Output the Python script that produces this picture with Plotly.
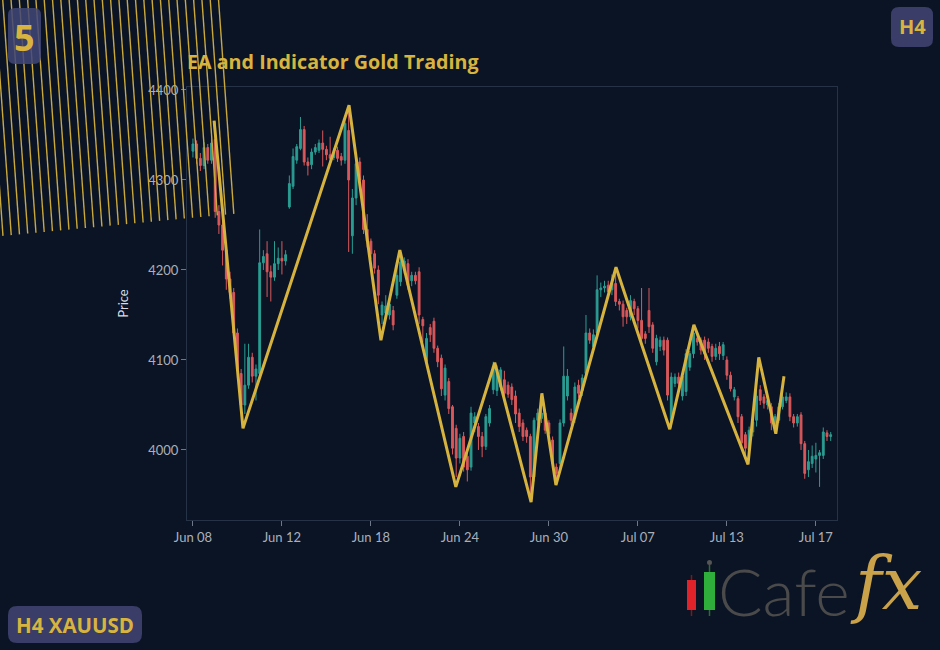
import plotly.graph_objects as go

# ---------------- data ----------------
opens = [4332, 4340, 4324, 4316, 4336, 4322, 4345, 4265, 4250, 4222,
         4190, 4175, 4130, 4085, 4050, 4072, 4103, 4082, 4085, 4208,
         4218, 4198, 4192, 4207, 4213, 4210, 4270, 4293, 4322, 4335,
         4356, 4320, 4317, 4331, 4333, 4341, 4334, 4328, 4325, 4333,
         4326, 4322, 4355, 4238, 4280, 4320, 4300, 4245, 4232, 4218,
         4200, 4150, 4152, 4150, 4155, 4172, 4187, 4200, 4207, 4188,
         4194, 4198, 4145, 4098, 4136, 4143, 4113, 4102, 4061, 4076,
         4048, 4024, 3991, 4015, 3993, 3981, 4030, 4026, 4015, 4004,
         4030, 4067, 4066, 4070, 4078, 4072, 4070, 4060, 4041, 4030,
         4022, 4015, 3970, 4033, 4035, 4041, 4030, 4011, 3981, 3985,
         4030, 4060, 4041, 4035, 4072, 4066, 4085, 4130, 4115, 4130,
         4178, 4180, 4183, 4178, 4185, 4165, 4162, 4155, 4148, 4165,
         4157, 4144, 4129, 4155, 4139, 4098, 4115, 4122, 4122, 4033,
         4074, 4081, 4060, 4065, 4092, 4107, 4124, 4122, 4122, 4120,
         4115, 4104, 4115, 4105, 4100, 4083, 4059, 4057, 4037, 4017,
         4000, 4020, 4033, 4067, 4059, 4050, 4048, 4026, 4033, 4048,
         4055, 4059, 4037, 4030, 4039, 4007, 3978, 3985, 3990, 3994,
         3994, 4019, 4015]
highs = [4346, 4344, 4330, 4342, 4340, 4345, 4365, 4272, 4256, 4228,
         4198, 4180, 4135, 4090, 4118, 4118, 4108, 4095, 4245, 4222,
         4232, 4205, 4232, 4225, 4232, 4222, 4305, 4335, 4340, 4370,
         4360, 4325, 4335, 4340, 4345, 4355, 4338, 4348, 4335, 4337,
         4330, 4372, 4380, 4290, 4322, 4325, 4305, 4262, 4235, 4222,
         4205, 4165, 4172, 4168, 4160, 4210, 4218, 4214, 4212, 4198,
         4198, 4203, 4148, 4130, 4140, 4147, 4116, 4106, 4095, 4080,
         4050, 4028, 4018, 4020, 3998, 4048, 4042, 4030, 4020, 4040,
         4050, 4098, 4094, 4092, 4088, 4076, 4074, 4066, 4046, 4034,
         4025, 4018, 4036, 4046, 4060, 4045, 4033, 4015, 3985, 4034,
         4115, 4090, 4046, 4075, 4078, 4084, 4150, 4135, 4134, 4194,
         4186, 4188, 4188, 4195, 4200, 4168, 4166, 4158, 4172, 4168,
         4160, 4180, 4132, 4180, 4142, 4128, 4126, 4126, 4125, 4086,
         4085, 4086, 4086, 4112, 4110, 4138, 4132, 4125, 4126, 4124,
         4118, 4118, 4120, 4120, 4104, 4087, 4070, 4060, 4040, 4020,
         4026, 4034, 4075, 4072, 4062, 4058, 4052, 4040, 4052, 4063,
         4064, 4063, 4040, 4040, 4042, 4010, 4000, 4005, 4008, 4000,
         4025, 4022, 4020]
lows = [4325, 4318, 4310, 4312, 4318, 4318, 4258, 4240, 4205, 4178,
        4168, 4125, 4080, 4040, 4040, 4068, 4075, 4055, 4080, 4200,
        4170, 4165, 4188, 4200, 4195, 4205, 4268, 4290, 4318, 4333,
        4316, 4305, 4312, 4328, 4330, 4315, 4322, 4320, 4322, 4320,
        4316, 4318, 4220, 4218, 4272, 4295, 4240, 4225, 4212, 4196,
        4162, 4140, 4146, 4145, 4133, 4168, 4182, 4196, 4178, 4182,
        4184, 4140, 4120, 4092, 4120, 4108, 4092, 4060, 4055, 4040,
        3995, 3970, 3985, 3976, 3965, 3977, 4020, 4000, 3992, 4000,
        4026, 4062, 4060, 4066, 4058, 4058, 4050, 4030, 4020, 4010,
        4008, 3948, 3965, 4028, 4030, 4018, 4012, 3980, 3965, 3980,
        4026, 4055, 4028, 4030, 4058, 4060, 4080, 4118, 4110, 4126,
        4170, 4175, 4170, 4172, 4160, 4155, 4137, 4140, 4144, 4150,
        4135, 4120, 4118, 4130, 4108, 4094, 4110, 4105, 4055, 4025,
        4070, 4068, 4055, 4060, 4088, 4102, 4116, 4106, 4100, 4108,
        4098, 4100, 4100, 4100, 4078, 4065, 4055, 4030, 4004, 3990,
        3988, 4015, 4026, 4050, 4046, 4045, 4022, 4020, 4030, 4045,
        4052, 4032, 4025, 4026, 4000, 3968, 3970, 3980, 3975, 3959,
        3990, 4010, 4010]
closes = [4340, 4324, 4316, 4336, 4322, 4341, 4265, 4250, 4222, 4190,
          4175, 4130, 4090, 4050, 4072, 4103, 4082, 4090, 4208, 4215,
          4198, 4192, 4207, 4213, 4210, 4217, 4296, 4326, 4337, 4356,
          4320, 4316, 4331, 4336, 4341, 4334, 4328, 4324, 4331, 4324,
          4322, 4363, 4300, 4280, 4318, 4300, 4245, 4232, 4218, 4202,
          4172, 4161, 4160, 4162, 4139, 4194, 4209, 4210, 4183, 4194,
          4188, 4150, 4138, 4124, 4128, 4113, 4098, 4068, 4091, 4046,
          4002, 3991, 4013, 3981, 3978, 4041, 4037, 4015, 4004, 4037,
          4046, 4093, 4090, 4089, 4063, 4062, 4056, 4040, 4026, 4015,
          4015, 3970, 4033, 4041, 4041, 4022, 4018, 3985, 3974, 4030,
          4082, 4082, 4033, 4070, 4063, 4080, 4130, 4122, 4128, 4178,
          4180, 4182, 4176, 4185, 4165, 4162, 4148, 4148, 4166, 4157,
          4144, 4124, 4124, 4137, 4113, 4124, 4122, 4111, 4061, 4081,
          4081, 4074, 4082, 4107, 4107, 4130, 4120, 4111, 4107, 4113,
          4104, 4113, 4107, 4117, 4083, 4068, 4067, 4037, 4008, 4002,
          4022, 4031, 4060, 4055, 4052, 4055, 4030, 4037, 4048, 4059,
          4059, 4037, 4030, 4037, 4007, 3974, 3987, 3993, 3994, 3997,
          4020, 4015, 4017]
candle_index = list(range(len(opens)))

zigzag_index = [5.7, 13.5, 42.1, 50.7, 55.8, 70.9, 81.4, 91.2, 94.1, 97.9,
                114.1, 128.6, 135.1, 149.7, 152.6, 157.2, 159.4]
zigzag_price = [4366, 4024, 4383, 4122, 4222, 3959, 4097, 3942, 4063, 3961,
                4203, 4023, 4139, 3984, 4103, 4018, 4082]

tick_index = [0, 24, 48, 72, 96, 120, 144, 168]
tick_labels = ["Jun 08", "Jun 12", "Jun 18", "Jun 24", "Jun 30", "Jul 07", "Jul 13", "Jul 17"]
price_ticks = [4000, 4100, 4200, 4300, 4400]

# ---------------- layout helpers ----------------
W, H = 940, 650
ML, MR, MT, MB = 187, 103, 87, 130
PW, PH = W - ML - MR, H - MT - MB

def px(x):
    return (x - ML) / PW

def py(y):
    return (H - MB - y) / PH

BG = "#0b1425"
GOLD = "#d8b43f"
BADGE = "#393d68"
HEAD = "Open Sans"

fig = go.Figure()
fig.add_trace(go.Candlestick(
    x=candle_index, open=opens, high=highs, low=lows, close=closes,
    increasing=dict(line=dict(color="#2a9d92", width=1), fillcolor="#2a9d92"),
    decreasing=dict(line=dict(color="#d9585b", width=1), fillcolor="#d9585b"),
    whiskerwidth=0, showlegend=False, hoverinfo="skip"))
fig.add_trace(go.Scatter(
    x=zigzag_index, y=zigzag_price, mode="lines",
    line=dict(color="#d6b23f", width=3), showlegend=False, hoverinfo="skip"))

shapes = []
# diagonal hatch (decorative)
for k in range(29):
    x0 = -14 + 8.3 * k
    yb = 236 - 0.095 * (x0 + 15)
    xb = x0 + 0.072 * yb
    shapes.append(dict(type="line", xref="paper", yref="paper",
                       x0=px(x0), y0=py(-2), x1=px(xb), y1=py(yb),
                       line=dict(color="#c9a83e", width=1.4), layer="above"))

def rounded(x0, y0, x1, y1, r, color):
    path = (f"M {px(x0 + r)} {py(y0)} L {px(x1 - r)} {py(y0)} "
            f"Q {px(x1)} {py(y0)} {px(x1)} {py(y0 + r)} L {px(x1)} {py(y1 - r)} "
            f"Q {px(x1)} {py(y1)} {px(x1 - r)} {py(y1)} L {px(x0 + r)} {py(y1)} "
            f"Q {px(x0)} {py(y1)} {px(x0)} {py(y1 - r)} L {px(x0)} {py(y0 + r)} "
            f"Q {px(x0)} {py(y0)} {px(x0 + r)} {py(y0)} Z")
    return dict(type="path", xref="paper", yref="paper", path=path,
                fillcolor=color, line=dict(width=0), layer="above")

shapes.append(rounded(8, 8, 41, 64, 7, "rgba(66,70,120,0.85)"))
shapes.append(rounded(891, 7, 933, 47, 8, BADGE))
shapes.append(rounded(8, 606, 142, 643, 9, BADGE))

# logo candles
shapes.append(dict(type="line", xref="paper", yref="paper", x0=px(691.5), x1=px(691.5),
                   y0=py(575), y1=py(616), line=dict(color="#7a1b1b", width=1.5)))
shapes.append(dict(type="rect", xref="paper", yref="paper", x0=px(687), x1=px(696),
                   y0=py(580), y1=py(610), fillcolor="#e0232b", line=dict(width=0)))
shapes.append(dict(type="line", xref="paper", yref="paper", x0=px(709.5), x1=px(709.5),
                   y0=py(565), y1=py(616), line=dict(color="#2d6b33", width=1.5)))
shapes.append(dict(type="circle", xref="paper", yref="paper", x0=px(707), x1=px(712),
                   y0=py(560), y1=py(565), fillcolor="#555555", line=dict(width=0)))
shapes.append(dict(type="rect", xref="paper", yref="paper", x0=px(704), x1=px(715),
                   y0=py(572), y1=py(610), fillcolor="#2fae3c", line=dict(width=0)))

annotations = [
    dict(text="5", xref="paper", yref="paper", x=px(24.5), y=py(37), showarrow=False,
         xanchor="center", yanchor="middle",
         font=dict(family=HEAD, size=36, color=GOLD, weight="bold")),
    dict(text="H4", xref="paper", yref="paper", x=px(912), y=py(27), showarrow=False,
         xanchor="center", yanchor="middle",
         font=dict(family=HEAD, size=20, color=GOLD, weight="bold")),
    dict(text="H4 XAUUSD", xref="paper", yref="paper", x=px(75), y=py(624.5), showarrow=False,
         xanchor="center", yanchor="middle",
         font=dict(family=HEAD, size=20.5, color=GOLD, weight="bold")),
    dict(text="Cafe", xref="paper", yref="paper", x=px(716), y=py(590), showarrow=False,
         xanchor="left", yanchor="middle",
         font=dict(family="Lato", size=66, color="#4a4a4a", weight=300)),
    dict(text="fx", xref="paper", yref="paper", x=px(848), y=py(584), showarrow=False,
         xanchor="left", yanchor="middle",
         font=dict(family="DejaVu Serif", size=72, color="#c9a24a", style="italic")),
]

fig.update_layout(
    width=W, height=H,
    margin=dict(l=ML, r=MR, t=MT, b=MB),
    paper_bgcolor=BG, plot_bgcolor=BG,
    title=dict(text="EA and Indicator Gold Trading", xref="paper", x=0, xanchor="left",
               yref="container", y=1 - 62 / H, yanchor="middle",
               font=dict(family=HEAD, size=19.7, color=GOLD, weight="bold")),
    shapes=shapes, annotations=annotations,
    showlegend=False,
)
fig.update_xaxes(
    range=[-1.6, 173.7], rangeslider=dict(visible=False),
    tickmode="array", tickvals=tick_index, ticktext=tick_labels,
    showgrid=False, zeroline=False,
    showline=True, linecolor="#263246", linewidth=1, mirror=True,
    ticks="outside", ticklen=5, tickcolor="#6f7888",
    tickfont=dict(family="Lato", size=13, color="#a9b0bb"),
)
fig.update_yaxes(
    range=[3922.2, 4403.3], tickmode="array", tickvals=price_ticks,
    showgrid=False, zeroline=False,
    showline=True, linecolor="#263246", linewidth=1, mirror=True,
    ticks="outside", ticklen=5, tickcolor="#6f7888",
    tickfont=dict(family="Lato", size=13, color="#a9b0bb"),
    title=dict(text="Price", font=dict(family="Lato", size=13, color="#d8dce2"), standoff=16),
)

fig.write_html("out.html")
